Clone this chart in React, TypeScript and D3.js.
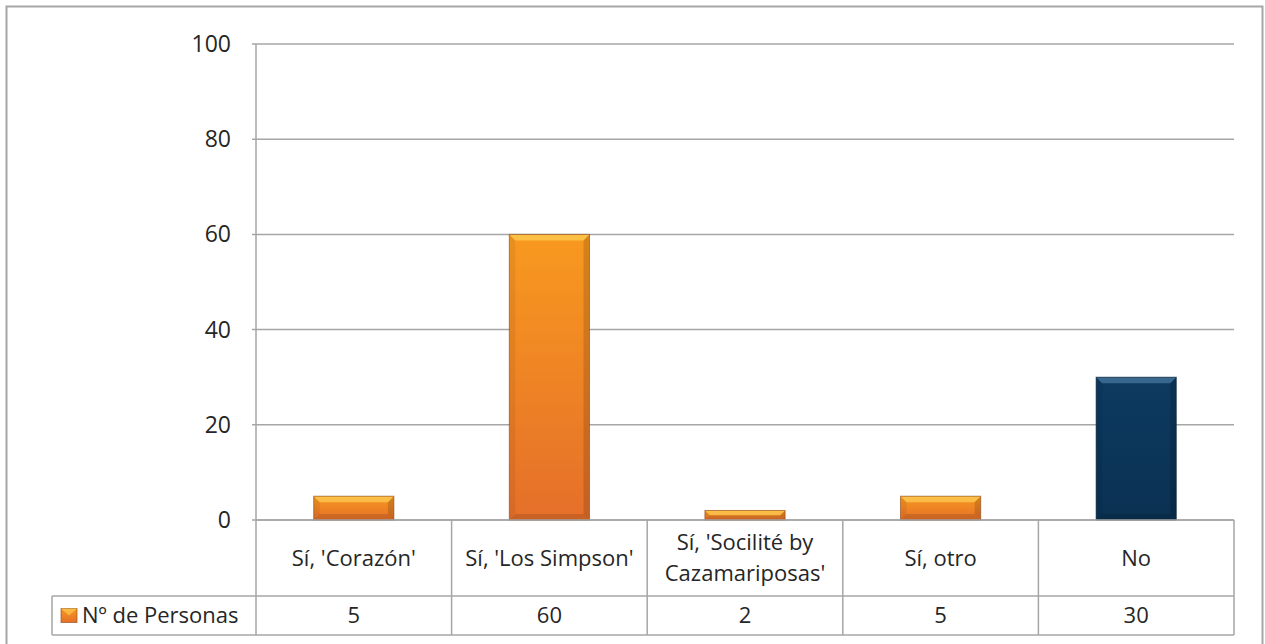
import React from 'react';
import * as d3 from 'd3';
import { useEffect, useRef } from 'react';

// data
const categories = ["Sí, 'Corazón'", "Sí, 'Los Simpson'", "Sí, 'Socilité by Cazamariposas'", "Sí, otro", "No"];
const categoryLines = [["Sí, 'Corazón'"], ["Sí, 'Los Simpson'"], ["Sí, 'Socilité by", "Cazamariposas'"], ["Sí, otro"], ["No"]];
const personas = [5, 60, 2, 5, 30];
const yTicks = [0, 20, 40, 60, 80, 100];
const seriesName = 'Nº de Personas';

const width = 1265;
const height = 644;
const FONT = "'Open Sans', 'Liberation Sans', sans-serif";

const App = () => {
    const chartRef = useRef<SVGSVGElement | null>(null);

    useEffect((): void => {
        const svg = d3.select(chartRef.current);
        svg.selectAll('*').remove();

        const left = 256;
        const right = 1234;
        const top = 44;
        const bottom = 520;
        const rowMid = 596;
        const tableBottom = 635;
        const legendLeft = 52;

        const xScale = d3.scaleBand<string>()
            .domain(categories)
            .range([left, right])
            .paddingInner(0)
            .paddingOuter(0);

        const yScale = d3.scaleLinear()
            .domain([0, 100])
            .range([bottom, top]);

        const defs = svg.append('defs');
        const orange = defs.append('linearGradient').attr('id', 'orangeGrad')
            .attr('x1', 0).attr('y1', 0).attr('x2', 0).attr('y2', 1);
        orange.append('stop').attr('offset', '0%').attr('stop-color', '#f8991f');
        orange.append('stop').attr('offset', '100%').attr('stop-color', '#e56f2a');
        const navy = defs.append('linearGradient').attr('id', 'navyGrad')
            .attr('x1', 0).attr('y1', 0).attr('x2', 0).attr('y2', 1);
        navy.append('stop').attr('offset', '0%').attr('stop-color', '#0d3a60');
        navy.append('stop').attr('offset', '100%').attr('stop-color', '#0a3152');

        // outer chart border
        svg.append('rect')
            .attr('x', 6.5).attr('y', 6.5)
            .attr('width', 1256).attr('height', 660)
            .attr('fill', 'white')
            .attr('stroke', '#a6a6a6')
            .attr('stroke-width', 2);

        // gridlines
        svg.append('g')
            .selectAll('line')
            .data(yTicks)
            .enter()
            .append('line')
            .attr('x1', left - 4)
            .attr('x2', right)
            .attr('y1', d => yScale(d))
            .attr('y2', d => yScale(d))
            .attr('stroke', '#a6a6a6')
            .attr('stroke-width', 1.5);

        // y axis labels
        svg.append('g')
            .selectAll('text')
            .data(yTicks)
            .enter()
            .append('text')
            .attr('x', left - 25)
            .attr('y', d => yScale(d))
            .attr('dy', '0.35em')
            .attr('text-anchor', 'end')
            .style('font-family', FONT)
            .style('font-size', '23px')
            .attr('fill', '#262626')
            .text(d => d);

        // bars with a bevel look
        const bars = svg.append('g');
        const barW = xScale.bandwidth() * 0.41;
        categories.forEach((c, i) => {
            const v = personas[i];
            const x0 = (xScale(c) ?? 0) + (xScale.bandwidth() - barW) / 2;
            const x1 = x0 + barW;
            const y0 = yScale(v);
            const y1 = yScale(0);
            const b = Math.min(6, (y1 - y0) / 2);
            const g = bars.append('g');
            g.append('rect')
                .attr('x', x0).attr('y', y0)
                .attr('width', barW).attr('height', y1 - y0)
                .attr('fill', c === 'No' ? 'url(#navyGrad)' : 'url(#orangeGrad)');
            const poly = (pts: number[][], fill: string, op: number) =>
                g.append('polygon')
                    .attr('points', pts.map(p => p.join(',')).join(' '))
                    .attr('fill', fill)
                    .attr('fill-opacity', op);
            poly([[x0, y0], [x1, y0], [x1 - b, y0 + b], [x0 + b, y0 + b]], c === 'No' ? '#5f8db5' : '#ffe066', 0.55);
            poly([[x0, y0], [x0 + b, y0 + b], [x0 + b, y1 - b], [x0, y1]], '#000', 0.06);
            poly([[x1, y0], [x1 - b, y0 + b], [x1 - b, y1 - b], [x1, y1]], '#000', 0.14);
            poly([[x0, y1], [x0 + b, y1 - b], [x1 - b, y1 - b], [x1, y1]], '#000', 0.12);
            g.append('rect')
                .attr('x', x0).attr('y', y0)
                .attr('width', barW).attr('height', y1 - y0)
                .attr('fill', 'none')
                .attr('stroke', c === 'No' ? '#06223a' : '#8a4414')
                .attr('stroke-opacity', 0.6)
                .attr('stroke-width', 1);
        });

        // y axis line
        svg.append('line')
            .attr('x1', left).attr('x2', left)
            .attr('y1', top).attr('y2', tableBottom)
            .attr('stroke', '#a6a6a6').attr('stroke-width', 1.5);

        // data table
        const table = svg.append('g')
            .attr('stroke', '#a6a6a6')
            .attr('stroke-width', 1.5);
        table.append('line').attr('x1', left).attr('x2', right).attr('y1', bottom).attr('y2', bottom);
        table.append('line').attr('x1', legendLeft).attr('x2', right).attr('y1', rowMid).attr('y2', rowMid);
        table.append('line').attr('x1', legendLeft).attr('x2', right).attr('y1', tableBottom).attr('y2', tableBottom);
        table.append('line').attr('x1', legendLeft).attr('x2', legendLeft).attr('y1', rowMid).attr('y2', tableBottom);
        categories.forEach(c => {
            const xe = (xScale(c) ?? 0) + xScale.bandwidth();
            table.append('line').attr('x1', xe).attr('x2', xe).attr('y1', bottom).attr('y2', tableBottom);
        });

        // category labels and values
        categories.forEach((c, i) => {
            const cx = (xScale(c) ?? 0) + xScale.bandwidth() / 2;
            const lines = categoryLines[i];
            const lh = 31;
            const cy = (bottom + rowMid) / 2;
            const t = svg.append('text')
                .attr('text-anchor', 'middle')
                .style('font-family', FONT)
                .style('font-size', '22px')
                .attr('fill', '#262626');
            lines.forEach((l, j) => {
                t.append('tspan')
                    .attr('x', cx)
                    .attr('y', cy + (j - (lines.length - 1) / 2) * lh)
                    .attr('dy', '0.35em')
                    .text(l);
            });
            svg.append('text')
                .attr('x', cx)
                .attr('y', (rowMid + tableBottom) / 2)
                .attr('dy', '0.35em')
                .attr('text-anchor', 'middle')
                .style('font-family', FONT)
                .style('font-size', '22px')
                .attr('fill', '#262626')
                .text(personas[i]);
        });

        // legend key in table
        const ky = (rowMid + tableBottom) / 2;
        const kx0 = 61, kx1 = 77, ky0 = ky - 7, ky1 = ky + 7;
        svg.append('rect')
            .attr('x', kx0).attr('y', ky0)
            .attr('width', kx1 - kx0).attr('height', ky1 - ky0)
            .attr('fill', 'url(#orangeGrad)')
            .attr('stroke', '#8a4414').attr('stroke-opacity', 0.6);
        svg.append('polygon')
            .attr('points', `${kx0},${ky0} ${kx1},${ky0} ${(kx0 + kx1) / 2},${ky0 + 7}`)
            .attr('fill', '#ffe066').attr('fill-opacity', 0.5);
        svg.append('text')
            .attr('x', 82)
            .attr('y', ky)
            .attr('dy', '0.35em')
            .style('font-family', FONT)
            .style('font-size', '22px')
            .attr('fill', '#262626')
            .text(seriesName);
    }, []);

    return (
        <svg ref={chartRef} width={width} height={height}
            style={{ position: 'absolute', left: 0, top: 0, background: 'white' }}></svg>
    );
};

export default App;
